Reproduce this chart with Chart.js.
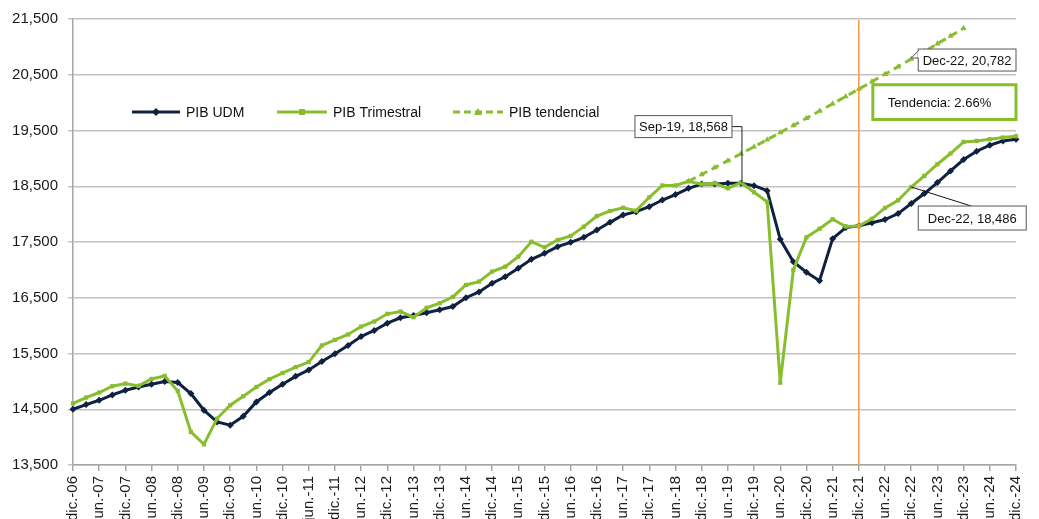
<!DOCTYPE html>
<html>
<head>
<meta charset="utf-8">
<script src="https://cdn.jsdelivr.net/npm/chart.js@4.4.1/dist/chart.umd.min.js"></script>
<style>
  html, body { margin: 0; padding: 0; background: #fff; }
  #wrap { width: 1039px; height: 519px; position: relative; }
</style>
</head>
<body>
<div id="wrap"><canvas id="grafico"></canvas></div>
<script>
// Trimestres (dic.-06 a dic.-24)
const trimestres = [
  'dic.-06','mar.-07','jun.-07','sep.-07','dic.-07','mar.-08','jun.-08','sep.-08',
  'dic.-08','mar.-09','jun.-09','sep.-09','dic.-09','mar.-10','jun.-10','sep.-10',
  'dic.-10','mar.-11','jun.-11','sep.-11','dic.-11','mar.-12','jun.-12','sep.-12',
  'dic.-12','mar.-13','jun.-13','sep.-13','dic.-13','mar.-14','jun.-14','sep.-14',
  'dic.-14','mar.-15','jun.-15','sep.-15','dic.-15','mar.-16','jun.-16','sep.-16',
  'dic.-16','mar.-17','jun.-17','sep.-17','dic.-17','mar.-18','jun.-18','sep.-18',
  'dic.-18','mar.-19','jun.-19','sep.-19','dic.-19','mar.-20','jun.-20','sep.-20',
  'dic.-20','mar.-21','jun.-21','sep.-21','dic.-21','mar.-22','jun.-22','sep.-22',
  'dic.-22','mar.-23','jun.-23','sep.-23','dic.-23','mar.-24','jun.-24','sep.-24',
  'dic.-24'
];

// PIB UDM
const pibUDM = [
  14500, 14584, 14661, 14757, 14841, 14900, 14949, 14997,
  14979, 14782, 14482, 14272, 14213, 14374, 14631, 14800,
  14949, 15090, 15205, 15356, 15494, 15644, 15805, 15913,
  16044, 16140, 16182, 16230, 16284, 16343, 16500, 16605,
  16760, 16877, 17028, 17190, 17297, 17416, 17494, 17584,
  17715, 17853, 17984, 18044, 18133, 18253, 18350, 18463,
  18541, 18541, 18553, 18553, 18510, 18420, 17548, 17147,
  16956, 16806, 17560, 17758, 17790, 17845, 17903, 18010,
  18190, 18369, 18566, 18775, 18979, 19128, 19236, 19313,
  19343
];

// PIB Trimestral
const pibTrimestral = [
  14605, 14710, 14800, 14913, 14961, 14918, 15044, 15097,
  14828, 14093, 13872, 14333, 14572, 14733, 14900, 15040,
  15150, 15256, 15346, 15644, 15745, 15841, 15984, 16074,
  16212, 16253, 16151, 16320, 16403, 16515, 16730, 16790,
  16969, 17057, 17236, 17505, 17405, 17536, 17608, 17775,
  17966, 18056, 18115, 18062, 18302, 18515, 18515, 18588,
  18535, 18553, 18463, 18568, 18392, 18223, 14976, 16998,
  17584, 17738, 17908, 17778, 17785, 17915, 18111, 18249,
  18486, 18685, 18895, 19087, 19295, 19313, 19343, 19374,
  19397
];

// PIB tendencial (sep.-18 a dic.-23)
const pibTendencial = [
  null, null, null, null, null, null, null, null,
  null, null, null, null, null, null, null, null,
  null, null, null, null, null, null, null, null,
  null, null, null, null, null, null, null, null,
  null, null, null, null, null, null, null, null,
  null, null, null, null, null, null, null, 18590,
  18712, 18835, 18959, 19083, 19209, 19335, 19462, 19590,
  19719, 19849, 19980, 20111, 20243, 20376, 20510, 20645,
  20782, 20918, 21056, 21194, 21333, null, null, null,
  null
];

const ticksY = [13500, 14500, 15500, 16500, 17500, 18500, 19500, 20500, 21500];

const colorUDM = '#0E2240';
const colorVerde = '#88BE2E';
const colorNaranja = '#F39A3A';

// Dibujar las anotaciones y la leyenda
const anotaciones = {
  id: 'anotaciones',
  afterDatasetsDraw(chart) {
    const ctx = chart.ctx;
    const x = chart.scales.x;
    const y = chart.scales.y;
    const area = chart.chartArea;

    ctx.save();

    // Línea vertical dic.-21
    const xLinea = x.getPixelForValue(60);
    ctx.strokeStyle = colorNaranja;
    ctx.lineWidth = 1.5;
    ctx.beginPath();
    ctx.moveTo(xLinea, area.top + 1);
    ctx.lineTo(xLinea, area.bottom);
    ctx.stroke();

    ctx.font = '13px "Liberation Sans", Arial, sans-serif';
    ctx.textBaseline = 'middle';
    ctx.fillStyle = '#111';

    function caja(left, top, w, h, texto, borde, grosor) {
      ctx.fillStyle = '#fff';
      ctx.fillRect(left, top, w, h);
      ctx.strokeStyle = borde;
      ctx.lineWidth = grosor;
      ctx.strokeRect(left, top, w, h);
      ctx.fillStyle = '#111';
      ctx.textAlign = 'center';
      ctx.fillText(texto, left + w / 2, top + h / 2 + 1);
    }

    // Sep-19, 18,568
    const x51 = x.getPixelForValue(51);
    const y51 = y.getPixelForValue(pibTrimestral[51]);
    const ySep = y.getPixelForValue(19570);
    ctx.strokeStyle = '#222';
    ctx.lineWidth = 1;
    ctx.beginPath();
    ctx.moveTo(x51 - 9, ySep);
    ctx.lineTo(x51 + 1, ySep);
    ctx.lineTo(x51 + 1, y51);
    ctx.stroke();
    caja(x51 - 106, ySep - 11, 97, 22, 'Sep-19, 18,568', '#555', 1);

    // Dec-22, 20,782
    const x64 = x.getPixelForValue(64);
    const yT64 = y.getPixelForValue(pibTendencial[64]);
    const izq = x64 + 7;
    const arriba = yT64 - 10;
    ctx.fillStyle = '#fff';
    ctx.strokeStyle = '#555';
    ctx.lineWidth = 1;
    ctx.beginPath();
    ctx.moveTo(izq, arriba + 2);
    ctx.lineTo(x64, yT64 - 1);
    ctx.lineTo(izq, arriba + 9);
    ctx.closePath();
    ctx.fill();
    ctx.stroke();
    caja(izq, arriba, area.right - izq, 22, 'Dec-22, 20,782', '#555', 1);
    // tapar el borde entre la cola y la caja
    ctx.fillStyle = '#fff';
    ctx.fillRect(izq - 0.5, arriba + 2.5, 1.5, 6);

    // Dec-22, 18,486
    const yV64 = y.getPixelForValue(pibTrimestral[64]);
    const topBaja = yV64 + 19;
    ctx.strokeStyle = '#111';
    ctx.lineWidth = 1;
    ctx.beginPath();
    ctx.moveTo(x64, yV64);
    ctx.lineTo(x64 + 60, topBaja);
    ctx.stroke();
    caja(izq, topBaja, 108, 24, 'Dec-22, 18,486', '#555', 1);

    // Tendencia
    const tIzq = xLinea + 14;
    const tTop = y.getPixelForValue(20500) + 10;
    const tBot = y.getPixelForValue(19500) - 11;
    ctx.fillStyle = '#fff';
    ctx.fillRect(tIzq, tTop, area.right - tIzq, tBot - tTop);
    ctx.strokeStyle = colorVerde;
    ctx.lineWidth = 3;
    ctx.strokeRect(tIzq, tTop, area.right - tIzq, tBot - tTop);
    ctx.fillStyle = '#111';
    ctx.textAlign = 'left';
    ctx.fillText('Tendencia: 2.66%', tIzq + 15, (tTop + tBot) / 2 + 1);

    // Leyenda
    const yLey = 112;
    ctx.font = '14px "Liberation Sans", Arial, sans-serif';
    const items = [
      { x0: 132, x1: 180, color: colorUDM, dash: [], marca: 'rombo', texto: 'PIB UDM' },
      { x0: 277, x1: 327, color: colorVerde, dash: [], marca: 'cuadro', texto: 'PIB Trimestral' },
      { x0: 453, x1: 503, color: colorVerde, dash: [7, 4], marca: 'triangulo', texto: 'PIB tendencial' }
    ];
    items.forEach(it => {
      ctx.strokeStyle = it.color;
      ctx.lineWidth = 3;
      ctx.setLineDash(it.dash);
      ctx.beginPath();
      ctx.moveTo(it.x0, yLey);
      ctx.lineTo(it.x1, yLey);
      ctx.stroke();
      ctx.setLineDash([]);
      const cx = (it.x0 + it.x1) / 2;
      ctx.fillStyle = it.color;
      ctx.beginPath();
      if (it.marca === 'rombo') {
        ctx.moveTo(cx, yLey - 4); ctx.lineTo(cx + 4, yLey);
        ctx.lineTo(cx, yLey + 4); ctx.lineTo(cx - 4, yLey);
      } else if (it.marca === 'cuadro') {
        ctx.rect(cx - 3, yLey - 3, 6, 6);
      } else {
        ctx.moveTo(cx, yLey - 4); ctx.lineTo(cx + 4, yLey + 3); ctx.lineTo(cx - 4, yLey + 3);
      }
      ctx.closePath();
      ctx.fill();
      ctx.fillStyle = '#111';
      ctx.textAlign = 'left';
      ctx.fillText(it.texto, it.x1 + 6, yLey + 1);
    });

    ctx.restore();
  }
};

const ctx = document.getElementById('grafico').getContext('2d');

const grafico = new Chart(ctx, {
  type: 'line',
  data: {
    labels: trimestres,
    datasets: [
      {
        label: 'PIB UDM',
        data: pibUDM,
        borderColor: colorUDM,
        backgroundColor: colorUDM,
        borderWidth: 3,
        pointStyle: 'rectRot',
        pointRadius: 3.5,
        pointBorderWidth: 0,
        order: 3,
        fill: false
      },
      {
        label: 'PIB Trimestral',
        data: pibTrimestral,
        borderColor: colorVerde,
        backgroundColor: colorVerde,
        borderWidth: 3,
        pointStyle: 'rect',
        pointRadius: 3,
        pointBorderWidth: 0,
        order: 2,
        fill: false
      },
      {
        label: 'PIB tendencial',
        data: pibTendencial,
        borderColor: colorVerde,
        backgroundColor: colorVerde,
        borderWidth: 3,
        borderDash: [8, 5],
        pointStyle: 'triangle',
        pointRadius: 3.5,
        pointBorderWidth: 0,
        order: 1,
        spanGaps: false,
        fill: false
      }
    ]
  },
  options: {
    responsive: true,
    maintainAspectRatio: false,
    animation: false,
    layout: { padding: { top: 19, right: 21, left: 0, bottom: 0 } },
    plugins: {
      legend: { display: false },
      tooltip: { enabled: false }
    },
    elements: { line: { tension: 0 } },
    scales: {
      x: {
        type: 'category',
        offset: false,
        afterFit: function (scale) { scale.height = 54; },
        grid: {
          drawOnChartArea: false,
          tickLength: 6,
          lineWidth: 1.5,
          color: c => (c.index % 2 === 0 ? '#A6A6A6' : 'rgba(0,0,0,0)')
        },
        border: { display: true, color: '#A6A6A6', width: 1.5 },
        ticks: {
          autoSkip: false,
          maxRotation: 90,
          minRotation: 90,
          padding: 5,
          color: '#1a1a1a',
          font: { family: '"Liberation Sans", Arial, sans-serif', size: 15 },
          callback: function (v, i) { return i % 2 === 0 ? trimestres[i] : ''; }
        }
      },
      y: {
        min: 13500,
        max: 21500,
        afterFit: function (scale) { scale.width = 73; },
        afterBuildTicks: function (scale) { scale.ticks = ticksY.map(v => ({ value: v })); },
        grid: { color: '#C2C2C2', lineWidth: 1.5, tickLength: 5 },
        border: { display: true, color: '#A6A6A6', width: 1.5 },
        ticks: {
          padding: 10,
          color: '#1a1a1a',
          font: { family: '"Liberation Sans", Arial, sans-serif', size: 15 },
          callback: v => v.toLocaleString('en-US')
        }
      }
    }
  },
  plugins: [anotaciones]
});
</script>
</body>
</html>
